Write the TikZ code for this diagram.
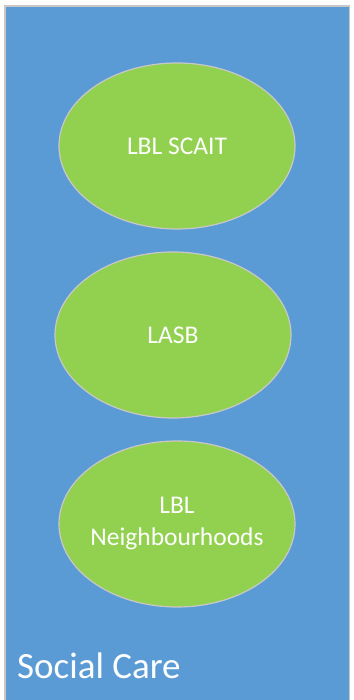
\documentclass[tikz,border=0pt]{standalone}
\usepackage{fontspec}
\setmainfont{Carlito}
\usepackage{tikz}
\usetikzlibrary{shapes.geometric}
\definecolor{carebl}{RGB}{91,155,213}
\definecolor{teamgr}{RGB}{146,208,80}
\definecolor{edgegr}{RGB}{200,200,200}
% zero-width line, so a long name does not stretch its ellipse
\newcommand{\slimline}[1]{\makebox[0pt]{#1}}

\begin{document}
\begin{tikzpicture}[x=1pt,y=1pt,node distance=189pt]
  \tikzstyle{team}=[ellipse,fill=teamgr,draw=edgegr,line width=1.2pt,
                    minimum width=236pt,minimum height=166pt,inner sep=0pt,
                    text=white,font=\fontsize{25.5}{32}\selectfont,align=center]

  \useasboundingbox (0,0) rectangle (353,700);
  % the Social Care box
  \filldraw[fill=carebl,draw=edgegr,line width=1.5pt] (5,-5) rectangle (349.5,694);

  \node[team]          (A) at (177,554) {LBL SCAIT};
  \node[team]          (B) [below of=A, xshift=-4pt] {LASB};
  \node[team]          (C) [below of=B, xshift=4pt] {\slimline{LBL}\\\slimline{Neighbourhoods}};

  \node[anchor=base west,text=white,font=\fontsize{37}{44}\selectfont,inner sep=0pt]
        (care) at (17,21) {Social Care};
\end{tikzpicture}
\end{document}
